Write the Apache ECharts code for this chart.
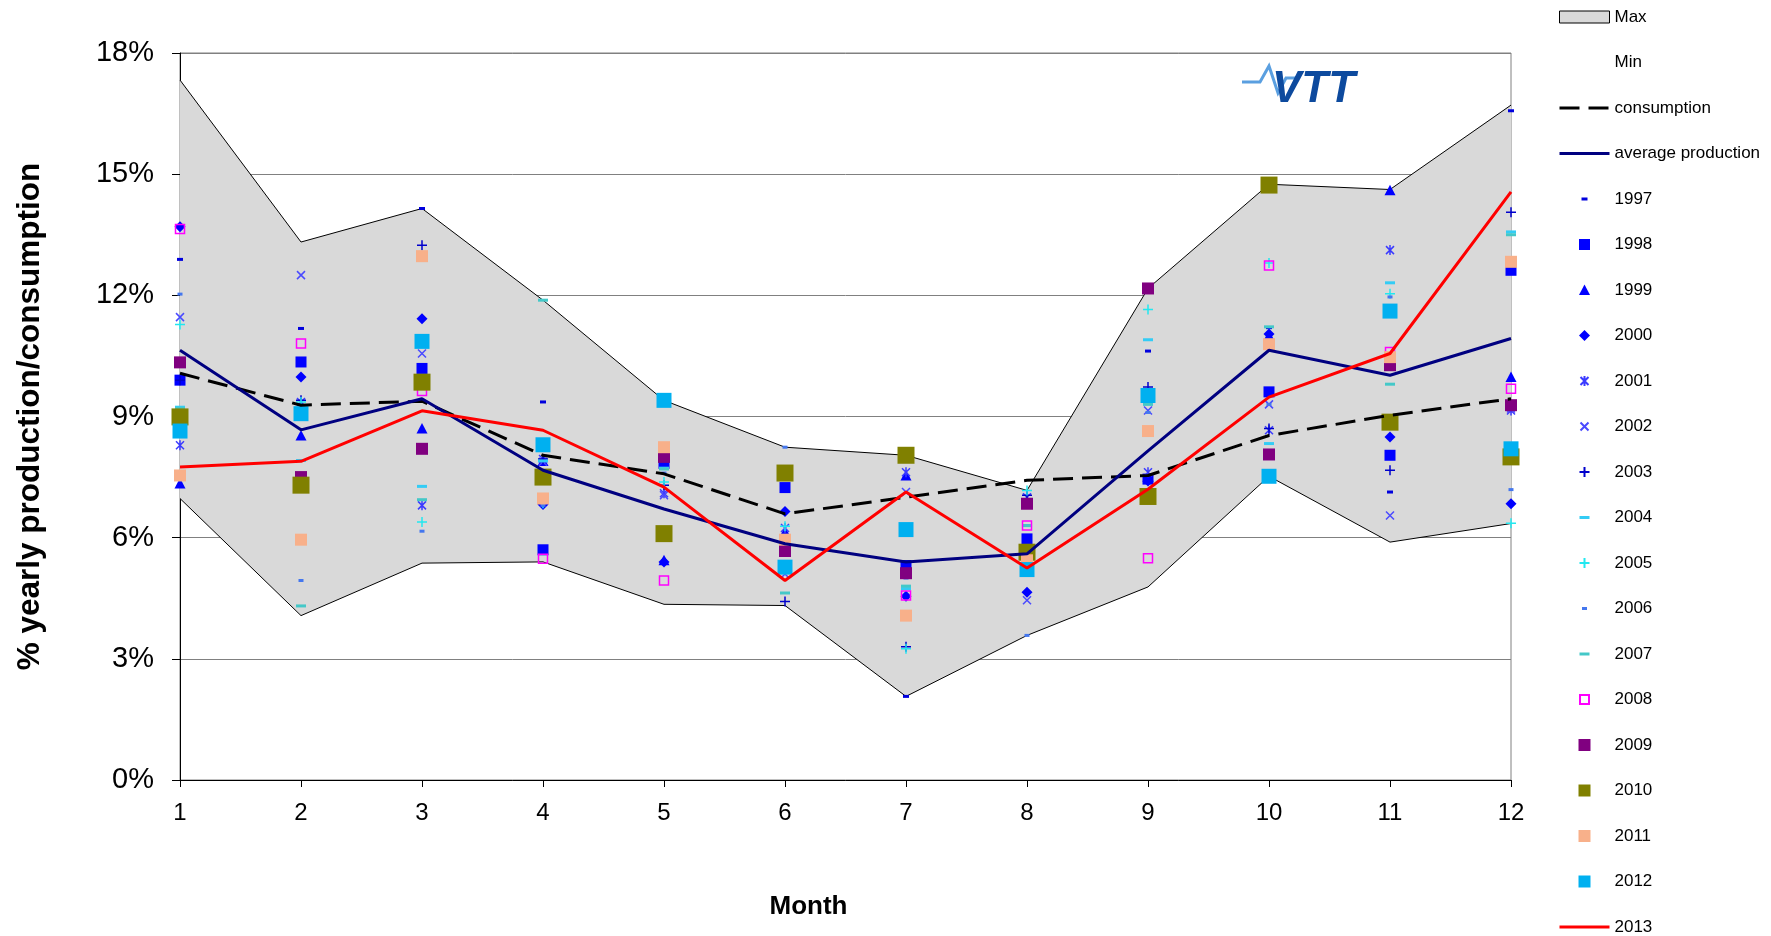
<!DOCTYPE html>
<html lang="en">
<head>
<meta charset="UTF-8">
<title>Monthly share of yearly production and consumption</title>
<style>
  * { margin: 0; padding: 0; }
  body { background: #fff; }
  #chart-container { width: 1771px; height: 936px; }
</style>
</head>
<body>
<div id="chart-container"></div>
<script src="https://cdn.jsdelivr.net/npm/echarts/dist/echarts.min.js"></script>
<script>
// months on the x axis
var months = ['1', '2', '3', '4', '5', '6', '7', '8', '9', '10', '11', '12'];

// envelope of all years, % of yearly total
var maxVals = [17.33, 13.32, 14.15, 11.88, 9.40, 8.24, 8.04, 7.17, 12.17, 14.75, 14.62, 16.71];
var minVals = [6.97, 4.07, 5.37, 5.40, 4.35, 4.32, 2.07, 3.58, 4.78, 7.52, 5.89, 6.35];

var consumption = [10.07, 9.28, 9.38, 8.04, 7.58, 6.59, 7.00, 7.42, 7.54, 8.53, 9.03, 9.44];
var avgProduction = [10.64, 8.67, 9.44, 7.67, 6.71, 5.85, 5.40, 5.60, 8.15, 10.64, 10.02, 10.93];

// yearly values
var y1997 = [12.89, 11.18, 14.15, 9.36, 7.90, 6.00, 2.07, 5.95, 10.62, 11.20, 7.13, 16.57];
var y1998 = [9.90, 10.35, 10.19, 5.70, 7.84, 7.24, 5.31, 5.97, 7.45, 9.61, 8.04, 12.62];
var y1999 = [7.34, 8.53, 8.70, 7.90, 5.44, 6.14, 7.54, 5.50, 7.50, 11.00, 14.60, 9.98];
var y2000 = [13.70, 9.98, 11.42, 6.82, 5.40, 6.65, 4.55, 4.65, 7.40, 11.04, 8.49, 6.84];
var y2001 = [8.29, 9.36, 6.80, 7.95, 7.10, 6.24, 7.62, 7.00, 7.62, 8.66, 13.12, 9.15];
var y2002 = [11.46, 12.50, 10.56, 7.88, 7.05, 5.10, 7.13, 4.45, 9.15, 9.30, 6.55, 9.20];
var y2003 = [9.90, 9.40, 13.24, 7.95, 7.30, 4.42, 3.30, 7.05, 9.73, 8.70, 7.67, 14.06];
var y2004 = [9.23, 7.91, 7.27, 7.90, 7.72, 5.30, 4.74, 6.30, 10.90, 8.33, 12.31, 13.57];
var y2005 = [11.28, 9.36, 6.39, 6.85, 7.38, 6.28, 3.25, 7.17, 11.65, 12.80, 12.04, 6.36];
var y2006 = [12.03, 4.94, 6.16, 6.80, 7.60, 8.24, 5.00, 3.58, 9.10, 9.30, 11.96, 7.19];
var y2007 = [9.20, 4.31, 6.94, 11.88, 7.70, 4.63, 4.80, 6.30, 9.30, 11.22, 9.80, 13.50];
var y2008 = [13.64, 10.81, 9.63, 5.48, 4.94, 5.90, 4.57, 6.30, 5.49, 12.74, 10.60, 9.69];
var y2009 = [10.34, 7.50, 8.20, 7.50, 8.00, 5.67, 5.12, 6.84, 12.17, 8.06, 10.27, 9.28];
var y2010 = [8.99, 7.30, 9.85, 7.50, 6.10, 7.60, 8.04, 5.64, 7.02, 14.73, 8.86, 8.00];
var y2011 = [7.54, 5.95, 12.97, 6.97, 8.24, 5.95, 4.07, 5.44, 8.64, 10.79, 10.47, 12.83];
var y2012 = [8.64, 9.07, 10.86, 8.30, 9.40, 5.27, 6.20, 5.21, 9.52, 7.52, 11.61, 8.20];
var y2013 = [7.75, 7.89, 9.14, 8.66, 7.25, 4.94, 7.13, 5.25, 7.20, 9.48, 10.56, 14.56];

var font = 'Liberation Sans, Arial, sans-serif';

// marker shapes drawn in a 12x12 box, so the legend shows them at the same size
var BOX = 'path://M0,0M12,12';
var SQUARE = 'path://M0,0h12v12h-12z';
var marks = [
  ['1997', y1997, BOX + 'M3,4.5h6v3h-6z', 12, '#0000dd', 0],
  ['1998', y1998, BOX + 'M0.5,0.5h11v11h-11z', 12, '#0000ff', 0],
  ['1999', y1999, BOX + 'M6,0.5L11.5,11L0.5,11Z', 12, '#0000ff', 0],
  ['2000', y2000, BOX + 'M6,0.5L11.5,6L6,11.5L0.5,6Z', 12, '#0000ff', 0],
  ['2001', y2001, BOX + 'M2,2L10,10M10,2L2,10M6,1L6,11', 12, '#3b3bff', 1.5],
  ['2002', y2002, BOX + 'M2,2L10,10M10,2L2,10', 12, '#4a4aff', 1.5],
  ['2003', y2003, BOX + 'M6,1L6,11M1,6L11,6', 12, '#0000cc', 1.5],
  ['2004', y2004, BOX + 'M1,4.5h10v3h-10z', 12, '#33ccf5', 0],
  ['2005', y2005, BOX + 'M6,1L6,11M1,6L11,6', 12, '#22e8f0', 1.5],
  ['2006', y2006, BOX + 'M3.5,4.5h5v3h-5z', 12, '#4477ee', 0],
  ['2007', y2007, BOX + 'M1,4.5h10v3h-10z', 12, '#44c8c8', 0],
  ['2008', y2008, BOX + 'M1.5,1.5h9v9h-9z', 12, '#ff00ff', 1.5],
  ['2009', y2009, SQUARE, 12, '#800080', 0],
  ['2010', y2010, SQUARE, 17, '#808000', 0],
  ['2011', y2011, SQUARE, 12, '#f8b08a', 0],
  ['2012', y2012, SQUARE, 15, '#00b0f0', 0]
];

var bandHeight = maxVals.map(function (v, i) { return +(v - minVals[i]).toFixed(2); });

var series = [
  {
    name: 'Min', type: 'line', stack: 'band', data: minVals, symbol: 'none', z: 1.5,
    color: '#000', lineStyle: { color: '#000', width: 1 }
  },
  {
    name: 'Max', type: 'line', stack: 'band', data: bandHeight, symbol: 'none', z: 1,
    color: '#d9d9d9', lineStyle: { color: '#000', width: 1 },
    areaStyle: { color: '#d9d9d9', opacity: 1 }
  },
  {
    name: 'consumption', type: 'line', data: consumption, symbol: 'none',
    color: '#000', lineStyle: { color: '#000', width: 3, type: [20, 9] }
  },
  {
    name: 'average production', type: 'line', data: avgProduction, symbol: 'none',
    color: '#000080', lineStyle: { color: '#000080', width: 3 }
  }
];

marks.forEach(function (m) {
  var hollow = m[0] === '2008';
  series.push({
    name: m[0], type: 'scatter', data: m[1], symbol: m[2], symbolSize: m[3],
    symbolKeepAspect: true,
    color: m[4],
    itemStyle: {
      color: hollow ? 'rgba(0,0,0,0)' : m[4],
      borderColor: m[4],
      borderWidth: m[5],
      opacity: 1
    }
  });
});

series.push({
  name: '2013', type: 'line', data: y2013, symbol: 'none',
  color: '#ff0000', lineStyle: { color: '#ff0000', width: 3 }
});

// line entries: hide the dot ECharts puts in the middle of the line icon
function lineItem(name) {
  return { name: name, itemStyle: { color: 'rgba(0,0,0,0)', borderWidth: 0 } };
}

var legendData = [
  { name: 'Max', icon: 'rect', symbolKeepAspect: false,
    itemStyle: { color: '#d9d9d9', borderColor: '#000', borderWidth: 1 } },
  { name: 'Min', icon: 'none' },
  lineItem('consumption'), lineItem('average production')
].concat(marks.map(function (m) { return m[0]; })).concat([lineItem('2013')]);

var dom = document.getElementById('chart-container');
var myChart = echarts.init(dom, null, { renderer: 'canvas' });

var option = {
  animation: false,
  backgroundColor: '#fff',
  textStyle: { fontFamily: font },
  grid: {
    left: 180, right: 260, top: 53, bottom: 156,
    show: true, borderColor: '#808080', borderWidth: 1,
    outerBoundsMode: 'none'
  },
  legend: {
    orient: 'vertical', left: 1558, top: 8, padding: 0,
    itemWidth: 50, itemHeight: 12, itemGap: 27.5,
    selectedMode: false,
    symbolKeepAspect: true,
    textStyle: { fontSize: 17, color: '#000', fontFamily: font, lineHeight: 18 },
    lineStyle: { width: 'inherit' },
    data: legendData
  },
  xAxis: {
    type: 'category', data: months, boundaryGap: false,
    name: 'Month', nameLocation: 'middle', nameGap: 114,
    nameTextStyle: { fontSize: 26, fontWeight: 'bold', color: '#000', fontFamily: font,
      padding: [0, 74, 0, 0] },
    axisLine: { lineStyle: { color: '#000', width: 1 } },
    axisTick: { show: true, length: 7, lineStyle: { color: '#000' } },
    axisLabel: { fontSize: 24, color: '#000', margin: 21, fontFamily: font },
    splitLine: { show: false }
  },
  yAxis: {
    type: 'value', min: 0, max: 18, interval: 3,
    name: '% yearly production/consumption', nameLocation: 'middle', nameGap: 134,
    nameTextStyle: { fontSize: 31.5, fontWeight: 'bold', color: '#000', fontFamily: font },
    axisLine: { show: true, lineStyle: { color: '#000', width: 1 } },
    axisTick: { show: true, length: 8, lineStyle: { color: '#000' } },
    axisLabel: { fontSize: 29, color: '#000', margin: 26, fontFamily: font,
      formatter: function (v) { return v + '%'; } },
    splitLine: { show: true, lineStyle: { color: '#808080', width: 1 } }
  },
  graphic: [
    {
      type: 'polyline', z: 10,
      shape: { points: [[1242, 82], [1260, 82], [1269, 66], [1278, 93], [1286, 78], [1298, 78]] },
      style: { stroke: '#5a9fe0', lineWidth: 3, fill: null }
    },
    {
      type: 'text', left: 1272, top: 68, z: 10,
      style: { text: 'VTT', fill: '#0d4a9e', font: 'italic bold 44px ' + font }
    }
  ],
  series: series
};

myChart.setOption(option);
window.addEventListener('resize', myChart.resize);
</script>
</body>
</html>
